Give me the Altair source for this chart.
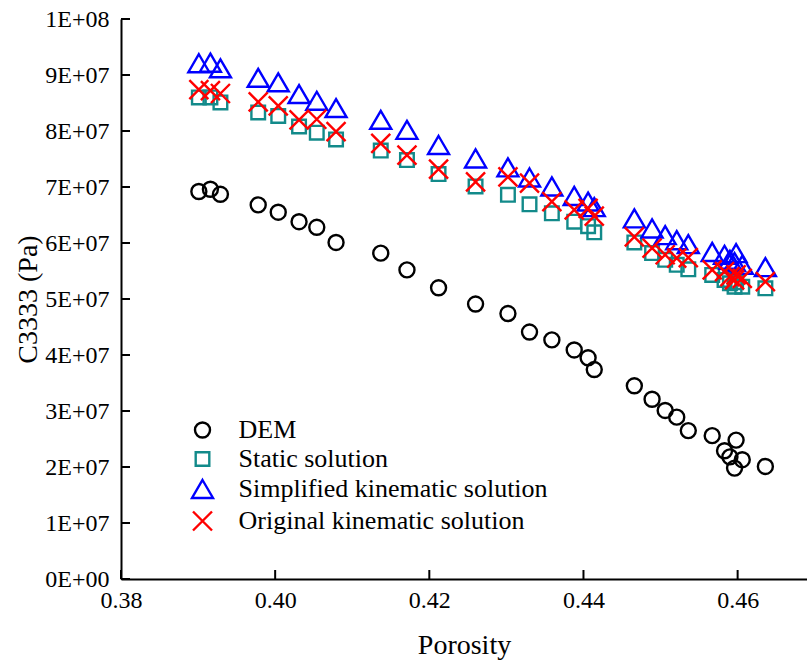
import json
import altair as alt
import pandas as pd

# ---- data ----
porosity = [0.3901, 0.3916, 0.3929, 0.3978, 0.4004, 0.4031, 0.4054, 0.4079, 0.4137, 0.4171,
            0.4212, 0.4260, 0.4302, 0.4330, 0.4359, 0.4388, 0.4406, 0.4414, 0.4466, 0.4489,
            0.4506, 0.4521, 0.4536, 0.4567, 0.4583, 0.4590, 0.4596, 0.4598, 0.4606, 0.4636]
dem = [6.92e7, 6.96e7, 6.87e7, 6.68e7, 6.55e7, 6.38e7, 6.28e7, 6.01e7, 5.82e7, 5.52e7,
       5.20e7, 4.91e7, 4.74e7, 4.41e7, 4.27e7, 4.09e7, 3.95e7, 3.74e7, 3.45e7, 3.21e7,
       3.01e7, 2.89e7, 2.65e7, 2.56e7, 2.29e7, 2.18e7, 1.98e7, 2.48e7, 2.13e7, 2.01e7]
static = [8.60e7, 8.60e7, 8.51e7, 8.33e7, 8.27e7, 8.08e7, 7.97e7, 7.85e7, 7.65e7, 7.48e7,
          7.23e7, 7.01e7, 6.86e7, 6.69e7, 6.53e7, 6.38e7, 6.30e7, 6.19e7, 6.01e7, 5.82e7,
          5.70e7, 5.61e7, 5.53e7, 5.43e7, 5.34e7, 5.28e7, 5.22e7, 5.30e7, 5.22e7, 5.19e7]
simplified = [9.21e7, 9.22e7, 9.12e7, 8.95e7, 8.87e7, 8.66e7, 8.54e7, 8.41e7, 8.20e7, 8.02e7,
              7.75e7, 7.51e7, 7.35e7, 7.17e7, 7.01e7, 6.84e7, 6.74e7, 6.64e7, 6.44e7, 6.26e7,
              6.14e7, 6.05e7, 5.98e7, 5.84e7, 5.79e7, 5.70e7, 5.66e7, 5.82e7, 5.61e7, 5.57e7]
original = [8.74e7, 8.72e7, 8.67e7, 8.52e7, 8.45e7, 8.20e7, 8.21e7, 7.99e7, 7.78e7, 7.57e7,
            7.32e7, 7.09e7, 7.18e7, 7.07e7, 6.74e7, 6.59e7, 6.62e7, 6.48e7, 6.11e7, 5.91e7,
            5.79e7, 5.73e7, 5.74e7, 5.52e7, 5.49e7, 5.40e7, 5.34e7, 5.43e7, 5.37e7, 5.31e7]

series_names = ["DEM", "Static solution", "Simplified kinematic solution",
                "Original kinematic solution"]
series_colors = ["#000000", "#128a8a", "#0000ff", "#ff0000"]
series_shapes = [
    "M0.75,0A0.75,0.75,0,1,1,-0.75,0A0.75,0.75,0,1,1,0.75,0Z",
    "M-0.68,-0.68L0.68,-0.68L0.68,0.68L-0.68,0.68Z",
    "M0,-0.9L1.05,0.9L-1.05,0.9Z",
    "M-0.95,-0.95L0.95,0.95M-0.95,0.95L0.95,-0.95",
]

x_ticks = [0.38, 0.40, 0.42, 0.44, 0.46]
y_ticks = [0, 1e7, 2e7, 3e7, 4e7, 5e7, 6e7, 7e7, 8e7, 9e7, 1e8]
y_tick_labels = ["0E+00", "1E+07", "2E+07", "3E+07", "4E+07", "5E+07",
                 "6E+07", "7E+07", "8E+07", "9E+07", "1E+08"]

FONT = "Liberation Serif"
W, H = 686, 560

rows = []
for name, vals in zip(series_names, [dem, static, simplified, original]):
    for p, v in zip(porosity, vals):
        rows.append({"Porosity": p, "C3333": v, "Series": name})
df = pd.DataFrame(rows)

xscale = alt.Scale(domain=[0.38, 0.469], nice=False, zero=False)
yscale = alt.Scale(domain=[0, 1e8], nice=False, zero=False)

label_expr = json.dumps(y_tick_labels) + "[round(datum.value / 1e7)]"

legend = alt.Legend(title=None, orient="none", legendX=68.5, legendY=398,
                    labelFont=FONT, labelFontSize=26, labelColor="black",
                    symbolSize=400, symbolStrokeWidth=2.4,
                    labelOffset=23, rowPadding=3, padding=0, labelLimit=0)

points = alt.Chart(df).mark_point(filled=False, size=400, strokeWidth=2.4, opacity=1).encode(
    x=alt.X("Porosity:Q", scale=xscale,
            axis=alt.Axis(values=x_ticks, format=".2f", title="Porosity",
                          labelFlush=False, labelPadding=9, ticks=False,
                          titleY=66, titleBaseline="middle", titleX=W / 2)),
    y=alt.Y("C3333:Q", scale=yscale,
            axis=alt.Axis(values=y_ticks, labelExpr=label_expr, title="C3333 (Pa)",
                          labelFlush=False, labelPadding=12, ticks=False,
                          titleX=-93, titleY=H / 2, titleAngle=-90,
                          titleBaseline="middle", titleAlign="center")),
    color=alt.Color("Series:N",
                    scale=alt.Scale(domain=series_names, range=series_colors),
                    legend=legend),
    shape=alt.Shape("Series:N",
                    scale=alt.Scale(domain=series_names, range=series_shapes),
                    legend=legend),
)

xtick_df = pd.DataFrame({"Porosity": x_ticks})
ytick_df = pd.DataFrame({"C3333": y_ticks})

xticks_layer = alt.Chart(xtick_df).mark_rule(color="black", strokeWidth=2).encode(
    x=alt.X("Porosity:Q", scale=xscale),
    y=alt.value(H), y2=alt.value(H - 9),
)
yticks_layer = alt.Chart(ytick_df).mark_rule(color="black", strokeWidth=2).encode(
    y=alt.Y("C3333:Q", scale=yscale),
    x=alt.value(0), x2=alt.value(9),
)

chart = alt.layer(points, xticks_layer, yticks_layer).properties(
    width=W, height=H,
    autosize=alt.AutoSizeParams(type="none"),
    padding={"left": 121, "top": 19, "right": 0, "bottom": 84},
    background="white",
).configure_view(stroke=None).configure_axis(
    grid=False, domain=True, domainColor="black", domainWidth=2,
    labelFont=FONT, labelFontSize=24, labelColor="black",
    titleFont=FONT, titleFontSize=28, titleColor="black", titleFontWeight="normal",
)

chart.save("out.html", embed_options={"renderer": "svg", "actions": False})
